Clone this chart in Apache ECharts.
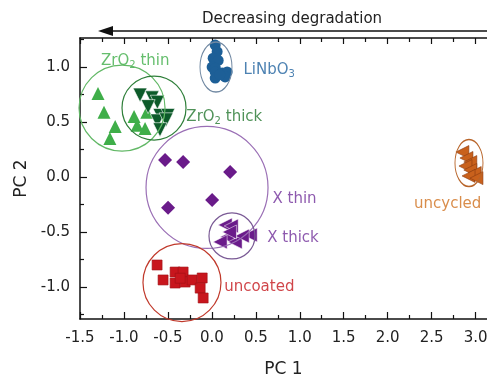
<!DOCTYPE html>
<html><head><meta charset="utf-8">
<script src="https://cdn.jsdelivr.net/npm/echarts@6/dist/echarts.min.js"></script>
<style>html,body{margin:0;padding:0;background:#fff}#c{width:487px;height:378px}</style>
</head><body><div id="c"></div>
<script>
// ---- tick values ----
const xTicks = [-1.5, -1.0, -0.5, 0.0, 0.5, 1.0, 1.5, 2.0, 2.5, 3.0];
const xMinor = [-1.25, -0.75, -0.25, 0.25, 0.75, 1.25, 1.75, 2.25, 2.75];
const yTicks = [-1.0, -0.5, 0.0, 0.5, 1.0];
const yMinor = [-1.25, -0.75, -0.25, 0.25, 0.75, 1.25];

// ---- data (PC1, PC2) ----
const zrThin = [[-1.295,0.76],[-1.227,0.59],[-1.10,0.46],[-1.16,0.35],[-0.885,0.55],[-0.85,0.47],[-0.76,0.44],[-0.74,0.59]];
const zrThick = [[-0.817,0.745],[-0.68,0.72],[-0.62,0.68],[-0.725,0.64],[-0.59,0.56],[-0.50,0.56],[-0.62,0.51],[-0.52,0.52],[-0.59,0.43]];
const liNbO3 = [[0.038,1.2],[0.06,1.14],[0.015,1.08],[0.072,1.06],[0.003,1.0],[0.04,0.99],[0.038,0.955],[0.117,0.945],[0.174,0.955],[0.151,0.91],[0.038,0.9],[0.09,0.93]];
const xThin = [[-0.532,0.155],[-0.327,0.136],[0.208,0.045],[-0.498,-0.28],[0.003,-0.21]];
const xThick = [[0.151,-0.436],[0.22,-0.445],[0.436,-0.527],[0.174,-0.545],[0.094,-0.59],[0.265,-0.59],[0.345,-0.536],[0.2,-0.5]];
const uncoated = [[-0.623,-0.80],[-0.555,-0.936],[-0.418,-0.864],[-0.327,-0.864],[-0.418,-0.964],[-0.304,-0.955],[-0.224,-0.936],[-0.11,-0.918],[-0.133,-1.01],[-0.099,-1.1],[-0.36,-0.92]];
const uncycled = [[2.85,0.227],[2.896,0.173],[2.94,0.136],[2.885,0.1],[2.94,0.064],[2.99,0.036],[2.92,0.01],[3.01,-0.01]];

// cluster outline centres (PC1, PC2)
const outlineCentres = [[-1.022,0.627],[-0.658,0.627],[0.047,1.0],[-0.055,-0.095],[0.229,-0.536],[-0.34,-0.96],[2.925,0.127]];
// label anchors (PC1, PC2)
const labelNames = ['ZrO2 thin','ZrO2 thick','LiNbO3','X thin','X thick','uncoated','uncycled'];
const labelAnchors = [[-1.261,1.055],[-0.29,0.545],[0.36,0.97],[0.69,-0.2],[0.63,-0.56],[0.14,-1.0],[2.3,-0.25]];

const FONT = 'DejaVu Sans';
const outlineStyle = [
  {size:[86,86], color:'#62b866'},
  {size:[64,64], color:'#2f7f3a'},
  {size:[32,50], color:'#7088a2'},
  {size:[122,122], color:'#9a6fb5'},
  {size:[46,46], color:'#7a5a95'},
  {size:[78,78], color:'#c0392b'},
  {size:[28,47], color:'#b8652a'}
];
const labelStyle = [
  {color:'#3fae49', fmt:'{a|ZrO}{s|2}{a| thin}'},
  {color:'#23772e', fmt:'{a|ZrO}{s|2}{a| thick}'},
  {color:'#20639f', fmt:'{a|LiNbO}{s|3}'},
  {color:'#70309a', fmt:'{a|X thin}'},
  {color:'#70309a', fmt:'{a|X thick}'},
  {color:'#c4161c', fmt:'{a|uncoated}'},
  {color:'#d0701e', fmt:'{a|uncycled}'}
];

const baseX = {type:'value', min:-1.5, max:3.13, splitLine:{show:false}};
const baseY = {type:'value', min:-1.291, max:1.264, splitLine:{show:false}};
const axLine = {show:true, onZero:false, lineStyle:{color:'#111', width:1.5}};
const noLine = {show:false, onZero:false};

const option = {
  animation:false,
  grid:{left:80, right:0, top:38, bottom:59, containLabel:false, outerBoundsMode:'none'},
  xAxis:[
    Object.assign({}, baseX, {position:'bottom', axisLine:axLine,
      axisTick:{inside:true, length:7, customValues:xTicks, lineStyle:{color:'#111', width:1.2}},
      axisLabel:{customValues:xTicks, formatter:v=>v.toFixed(1), fontFamily:FONT, fontSize:15, color:'#222', margin:12},
      name:'PC 1', nameLocation:'middle', nameGap:42, nameTextStyle:{fontFamily:FONT, fontSize:17, color:'#222'}}),
    Object.assign({}, baseX, {position:'bottom', axisLine:noLine,
      axisTick:{inside:true, length:4, customValues:xMinor, lineStyle:{color:'#111', width:1.2}},
      axisLabel:{show:false}}),
    Object.assign({}, baseX, {position:'top', axisLine:axLine,
      axisTick:{inside:true, length:6, customValues:xTicks, lineStyle:{color:'#111', width:1.2}},
      axisLabel:{show:false}}),
    Object.assign({}, baseX, {position:'top', axisLine:noLine,
      axisTick:{inside:true, length:4, customValues:xMinor, lineStyle:{color:'#111', width:1.2}},
      axisLabel:{show:false}})
  ],
  yAxis:[
    Object.assign({}, baseY, {position:'left', axisLine:axLine,
      axisTick:{inside:true, length:7, customValues:yTicks, lineStyle:{color:'#111', width:1.2}},
      axisLabel:{customValues:yTicks, formatter:v=>v.toFixed(1), fontFamily:FONT, fontSize:15, color:'#222', margin:10},
      name:'PC 2', nameLocation:'middle', nameGap:47, nameRotate:90, nameTextStyle:{fontFamily:FONT, fontSize:17, color:'#222'}}),
    Object.assign({}, baseY, {position:'left', axisLine:noLine,
      axisTick:{inside:true, length:4, customValues:yMinor, lineStyle:{color:'#111', width:1.2}},
      axisLabel:{show:false}})
  ],
  series:[
    {type:'scatter', name:'ZrO2 thin', symbol:'triangle', symbolSize:13, data:zrThin,
      itemStyle:{color:'#3fae49', opacity:1}},
    {type:'scatter', name:'ZrO2 thick', symbol:'triangle', symbolRotate:180, symbolSize:14, data:zrThick,
      itemStyle:{color:'#0d5b2a', borderColor:'#ffffff', borderWidth:0.6, opacity:1}},
    {type:'scatter', name:'LiNbO3', symbol:'circle', symbolSize:11, data:liNbO3,
      itemStyle:{color:'#1d5f97', opacity:1}},
    {type:'scatter', name:'X thin', symbol:'diamond', symbolSize:14, data:xThin,
      itemStyle:{color:'#6a1b8a', opacity:1}},
    {type:'scatter', name:'X thick', symbol:'triangle', symbolRotate:90, symbolSize:14, data:xThick,
      itemStyle:{color:'#6a1b8a', borderColor:'#ffffff', borderWidth:0.5, opacity:1}},
    {type:'scatter', name:'uncoated', symbol:'rect', symbolSize:10, data:uncoated,
      itemStyle:{color:'#c8161d', borderColor:'#a01015', borderWidth:0.6, opacity:1}},
    {type:'scatter', name:'uncycled', symbol:'triangle', symbolRotate:90, symbolSize:13, data:uncycled,
      itemStyle:{color:'#c9611c', borderColor:'#8a3a10', borderWidth:0.6, opacity:1}},
    {type:'scatter', name:'outlines', symbol:'circle', silent:true, z:3,
      data: outlineCentres.map((c,i)=>({value:c, symbolSize:outlineStyle[i].size,
        itemStyle:{color:'rgba(0,0,0,0)', borderColor:outlineStyle[i].color, borderWidth:1.2, opacity:1}}))},
    {type:'scatter', name:'labels', symbolSize:0, silent:true, z:4,
      data: labelAnchors.map((c,i)=>({value:c, name:labelNames[i],
        label:{show:true, position:'right', distance:0, formatter:labelStyle[i].fmt,
          rich:{a:{fontFamily:FONT, fontSize:15, color:labelStyle[i].color},
                s:{fontFamily:FONT, fontSize:10, color:labelStyle[i].color, padding:[8,0,0,0]}}}}))}
  ],
  graphic:[
    {type:'line', shape:{x1:110, y1:31, x2:487, y2:31}, style:{stroke:'#111', lineWidth:1.5}},
    {type:'polygon', shape:{points:[[98,31],[113,26],[113,36]]}, style:{fill:'#111'}},
    {type:'text', x:292, y:19, style:{text:'Decreasing degradation', font:'15px "DejaVu Sans"', fill:'#222', align:'center', verticalAlign:'middle'}}
  ]
};
const chart = echarts.init(document.getElementById('c'), null, {renderer:'canvas'});
chart.setOption(option);
</script>
</body></html>
